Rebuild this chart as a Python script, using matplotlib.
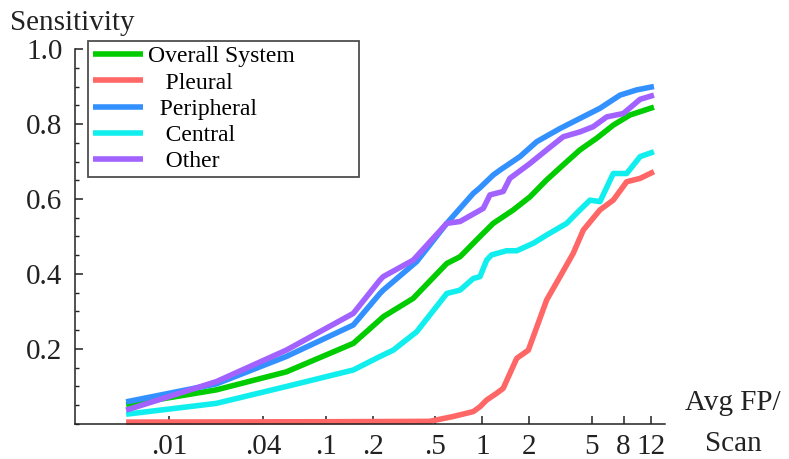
import numpy as np
import matplotlib
matplotlib.use("Agg")
import matplotlib.pyplot as plt
from matplotlib.ticker import FixedLocator, MultipleLocator, NullLocator

plt.rcParams["font.family"] = ["Liberation Serif", "DejaVu Serif"]

# ── Data ────────────────────────────────────────────────────────────────
overall_x = [0.0053, 0.020, 0.056, 0.15, 0.222, 0.233, 0.362, 0.593, 0.721,
             0.967, 1.175, 1.58, 2.02, 2.58, 3.29, 4.21, 5.38, 6.87, 8.78, 12.5]
overall_y = [0.051, 0.091, 0.139, 0.215, 0.278, 0.286, 0.335, 0.428, 0.446,
             0.500, 0.535, 0.571, 0.606, 0.651, 0.691, 0.731, 0.762, 0.797,
             0.824, 0.845]

pleural_x = [0.0053, 0.1, 0.46, 0.653, 0.876, 0.967, 1.067, 1.236, 1.36,
             1.66, 1.97, 2.58, 3.14, 3.81, 4.42, 5.65, 6.87, 8.37, 10.2, 12.5]
pleural_y = [0.005, 0.006, 0.007, 0.020, 0.033, 0.046, 0.064, 0.082, 0.095,
             0.175, 0.197, 0.331, 0.393, 0.455, 0.517, 0.571, 0.597, 0.646,
             0.655, 0.673]

peripheral_x = [0.0053, 0.020, 0.056, 0.15, 0.222, 0.233, 0.381, 0.593, 0.876,
                0.967, 1.175, 1.297, 1.74, 2.23, 3.14, 4.21, 5.65, 7.59, 9.7,
                12.5]
peripheral_y = [0.059, 0.107, 0.180, 0.264, 0.348, 0.357, 0.433, 0.535, 0.615,
                0.630, 0.664, 0.677, 0.713, 0.753, 0.788, 0.815, 0.842, 0.877,
                0.891, 0.900]

central_x = [0.0053, 0.020, 0.056, 0.15, 0.222, 0.27, 0.381, 0.593, 0.721,
             0.876, 0.967, 1.067, 1.148, 1.43, 1.66, 2.12, 2.58, 3.46, 4.21,
             4.88, 5.65, 6.87, 8.37, 10.2, 12.5]
central_y = [0.026, 0.055, 0.100, 0.144, 0.180, 0.197, 0.246, 0.348, 0.357,
             0.388, 0.393, 0.437, 0.451, 0.462, 0.462, 0.482, 0.504, 0.535,
             0.571, 0.597, 0.593, 0.668, 0.668, 0.713, 0.726]

other_x = [0.0053, 0.020, 0.056, 0.15, 0.222, 0.233, 0.362, 0.593, 0.721,
           1.015, 1.12, 1.36, 1.50, 2.02, 2.58, 3.29, 4.21, 5.12, 6.24, 7.96,
           10.2, 12.5]
other_y = [0.037, 0.113, 0.197, 0.295, 0.384, 0.393, 0.437, 0.535, 0.540,
           0.575, 0.611, 0.620, 0.655, 0.695, 0.731, 0.766, 0.779, 0.793,
           0.819, 0.828, 0.866, 0.877]

x_ticks = [0.01, 0.04, 0.1, 0.2, 0.5, 1, 2, 5, 8, 12]
x_ticklabels = [".01", ".04", ".1", ".2", ".5", "1", "2", "5", "8", "12"]
y_ticks = [0.2, 0.4, 0.6, 0.8, 1.0]
y_ticklabels = ["0.2", "0.4", "0.6", "0.8", "1.0"]

series = [
    (overall_x, overall_y, "Overall System", "#00CC00"),
    (pleural_x, pleural_y, "   Pleural", "#FF6666"),
    (peripheral_x, peripheral_y, "  Peripheral", "#3391FF"),
    (central_x, central_y, "   Central", "#11EEEE"),
    (other_x, other_y, "   Other", "#A262FF"),
]

# ── Plot ────────────────────────────────────────────────────────────────
fig = plt.figure(figsize=(7.89, 4.59), dpi=100)
ax = fig.add_axes([0.0951, 0.0763, 0.7477, 0.8169])

for xs, ys, label, color in series:
    ax.plot(xs, ys, color=color, lw=4.0, label=label, solid_capstyle="butt",
            clip_on=False)

ax.set_xscale("log")
ax.set_xlim(0.0025, 14.7)
ax.set_ylim(0, 1.0)

ax.xaxis.set_major_locator(FixedLocator(x_ticks))
ax.xaxis.set_minor_locator(NullLocator())
ax.set_xticklabels(x_ticklabels)
ax.set_yticks(y_ticks)
ax.set_yticklabels(y_ticklabels)
ax.yaxis.set_minor_locator(MultipleLocator(0.05))

ax.tick_params(which="major", direction="in", length=6, width=1.1,
               labelsize=21, colors="#222222")
ax.tick_params(axis="x", which="major", pad=7)
ax.tick_params(axis="y", which="major", pad=9)
ax.tick_params(which="minor", direction="in", length=2.8, width=1.0,
               colors="#222222")

for side in ("top", "right"):
    ax.spines[side].set_visible(False)
for side in ("left", "bottom"):
    ax.spines[side].set_linewidth(1.1)
    ax.spines[side].set_color("#222222")

leg = ax.legend(loc="upper left", bbox_to_anchor=(0.022, 0.659, 0.459, 0.362),
                mode="expand", fontsize=17, frameon=True, fancybox=False,
                borderpad=0.2, labelspacing=0.2, handlelength=2.15,
                handletextpad=0.2, borderaxespad=0.0)
leg.get_frame().set_edgecolor("#222222")
leg.get_frame().set_linewidth(1.3)

fig.text(10 / 789, 1 - 30 / 459, "Sensitivity", fontsize=21,
         ha="left", va="baseline", color="#222222")
fig.text(733 / 789, 1 - 410 / 459, "Avg FP/", fontsize=21,
         ha="center", va="baseline", color="#222222")
fig.text(733 / 789, 1 - 451 / 459, "Scan", fontsize=21,
         ha="center", va="baseline", color="#222222")

fig.savefig("out.png", dpi=100)
